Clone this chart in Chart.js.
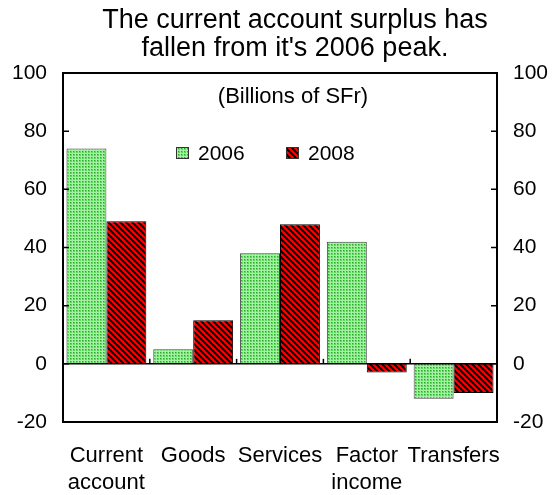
<!DOCTYPE html>
<html>
<head>
<meta charset="utf-8">
<script src="https://cdn.jsdelivr.net/npm/chart.js@4.4.1/dist/chart.umd.min.js"></script>
<style>
    html, body { margin: 0; padding: 0; background: #fff; }
    #wrap { width: 559px; height: 495px; }
</style>
</head>
<body>
<div id="wrap"><canvas id="surplusChart"></canvas></div>
<script>
// chart data
const categories = [["Current", "account"], "Goods", "Services", ["Factor", "income"], "Transfers"];
const values2006 = [74, 5, 38, 42, -12];
const values2008 = [49, 15, 48, -3, -10];
const yTicks = [-20, 0, 20, 40, 60, 80, 100];
const titleLines = ["The current account surplus has", "fallen from it's 2006 peak."];

const FONT = "'Liberation Sans', Arial, sans-serif";

// dotted green fill for 2006
function dotPattern() {
    let c = document.createElement("canvas");
    c.width = 3; c.height = 3;
    let g = c.getContext("2d");
    g.fillStyle = "#a6f0a6";
    g.fillRect(0, 0, 3, 3);
    g.fillStyle = "#5cd85c";
    g.fillRect(1, 1, 2, 2);
    g.fillStyle = "#2ea62e";
    g.fillRect(1, 1, 1, 1);
    return g.createPattern(c, "repeat");
}

// red with black diagonal stripes for 2008
function stripePattern() {
    let s = 6;
    let c = document.createElement("canvas");
    c.width = s; c.height = s;
    let g = c.getContext("2d");
    g.fillStyle = "#ff0000";
    g.fillRect(0, 0, s, s);
    g.strokeStyle = "#000";
    g.lineWidth = 2;
    g.beginPath();
    g.moveTo(-1, -1); g.lineTo(s + 1, s + 1);
    g.moveTo(-s - 1, -1); g.lineTo(1, s + 1);
    g.moveTo(s - 1, -1); g.lineTo(2 * s + 1, s + 1);
    g.stroke();
    return g.createPattern(c, "repeat");
}

// title, frame, zero line, inner ticks, note and legend
const decorations = {
    id: "decorations",
    afterDatasetsDraw(chart) {
        const ctx = chart.ctx;
        const a = chart.chartArea;
        const y = chart.scales.y;
        const x = chart.scales.x;
        ctx.save();
        ctx.strokeStyle = "#000";

        // title
        ctx.fillStyle = "#000";
        ctx.font = "27px " + FONT;
        ctx.textAlign = "center";
        ctx.textBaseline = "middle";
        titleLines.forEach((t, i) => ctx.fillText(t, 295, 21 + i * 28));

        // zero line
        ctx.lineWidth = 1.5;
        let y0 = y.getPixelForValue(0);
        ctx.beginPath();
        ctx.moveTo(a.left, y0);
        ctx.lineTo(a.right, y0);
        ctx.stroke();

        // category separators on the zero line
        for (let i = 1; i < categories.length; i++) {
            let xp = (x.getPixelForValue(i - 1) + x.getPixelForValue(i)) / 2;
            ctx.beginPath();
            ctx.moveTo(xp, y0);
            ctx.lineTo(xp, y0 - 5);
            ctx.stroke();
        }

        // value ticks pointing inwards
        yTicks.forEach(v => {
            let yp = y.getPixelForValue(v);
            ctx.beginPath();
            ctx.moveTo(a.left, yp); ctx.lineTo(a.left + 6, yp);
            ctx.moveTo(a.right, yp); ctx.lineTo(a.right - 6, yp);
            ctx.stroke();
        });

        // frame
        ctx.lineWidth = 2;
        ctx.strokeRect(a.left, a.top, a.right - a.left, a.bottom - a.top);

        // units note
        ctx.font = "22px " + FONT;
        ctx.fillText("(Billions of SFr)", 293, a.top + 24);

        // legend
        ctx.font = "21px " + FONT;
        ctx.textAlign = "left";
        const legendX = [176, 286];
        chart.data.datasets.forEach((ds, i) => {
            let lx = legendX[i], ly = a.top + 80;
            ctx.fillStyle = ds.backgroundColor;
            ctx.fillRect(lx, ly - 6, 13, 12);
            ctx.lineWidth = 1;
            ctx.strokeStyle = "#333";
            ctx.strokeRect(lx + 0.5, ly - 5.5, 12, 11);
            ctx.fillStyle = "#000";
            ctx.fillText(ds.label, lx + 22, ly + 1);
        });
        ctx.restore();
    }
};

new Chart(document.getElementById("surplusChart"), {
    type: "bar",
    data: {
        labels: categories,
        datasets: [{
            label: "2006",
            data: values2006,
            backgroundColor: dotPattern(),
            borderColor: "#444",
            borderWidth: 1,
            yAxisID: "y"
        }, {
            label: "2008",
            data: values2008,
            backgroundColor: stripePattern(),
            borderColor: "#000",
            borderWidth: 1,
            yAxisID: "y"
        }]
    },
    options: {
        responsive: true,
        maintainAspectRatio: false,
        animation: false,
        layout: { padding: { left: 0, right: 0, top: 73, bottom: 0 } },
        datasets: { bar: { categoryPercentage: 0.92, barPercentage: 1 } },
        plugins: {
            legend: { display: false },
            tooltip: { enabled: false },
            title: { display: false }
        },
        scales: {
            x: {
                grid: { display: false, drawTicks: false },
                border: { display: false },
                ticks: {
                    color: "#000",
                    padding: 20,
                    maxRotation: 0,
                    autoSkip: false,
                    font: { family: FONT, size: 22, lineHeight: 1.23 }
                },
                afterFit(scale) { scale.height = 73; }
            },
            y: {
                position: "left",
                min: -20,
                max: 100,
                grid: { display: false, drawTicks: false },
                border: { display: false },
                ticks: {
                    stepSize: 20,
                    color: "#000",
                    padding: 16,
                    font: { family: FONT, size: 21 }
                },
                afterFit(scale) { scale.width = 63; }
            },
            y2: {
                position: "right",
                min: -20,
                max: 100,
                grid: { display: false, drawTicks: false },
                border: { display: false },
                ticks: {
                    stepSize: 20,
                    color: "#000",
                    padding: 16,
                    font: { family: FONT, size: 21 }
                },
                afterFit(scale) { scale.width = 62; }
            }
        }
    },
    plugins: [decorations]
});
</script>
</body>
</html>
